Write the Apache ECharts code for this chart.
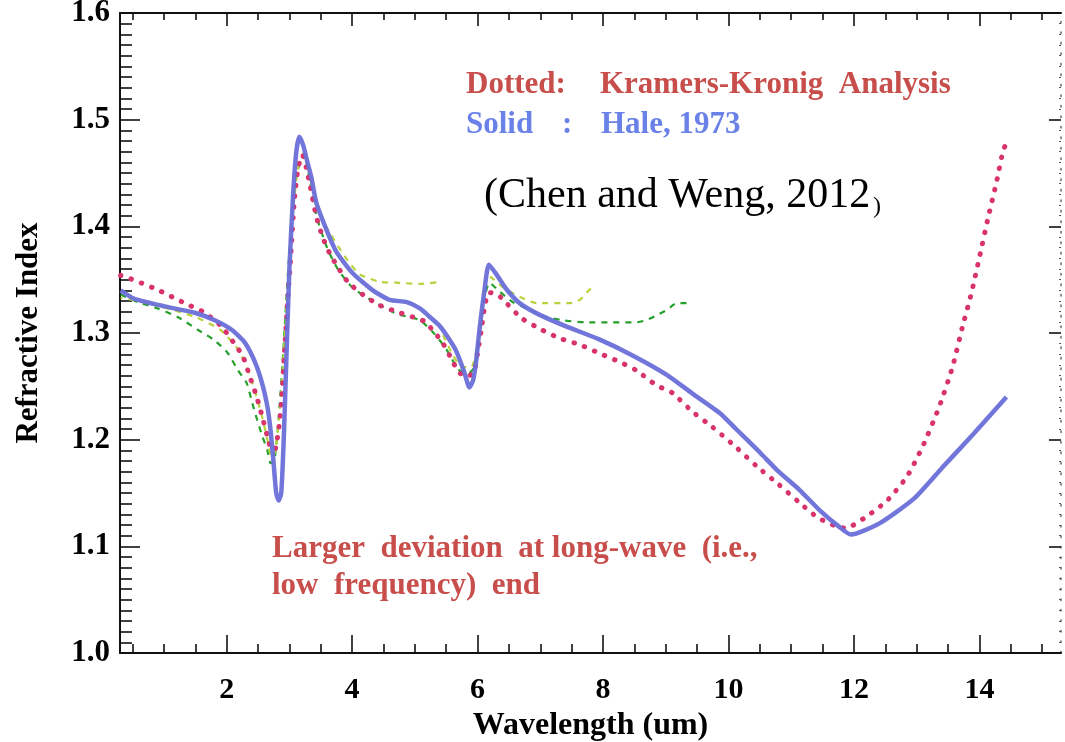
<!DOCTYPE html>
<html>
<head>
<meta charset="utf-8">
<script src="https://cdn.jsdelivr.net/npm/echarts@6/dist/echarts.min.js"></script>
<style>
  html, body { margin: 0; padding: 0; background: #fff; }
  #chart-area { width: 1065px; height: 742px; }
</style>
</head>
<body>
<div id="chart-area"></div>
<script>
// tick values
const majorTicksX = [2, 4, 6, 8, 10, 12, 14];
const minorTicksX = [0.5, 1, 1.5, 2.5, 3, 3.5, 4.5, 5, 5.5, 6.5, 7, 7.5, 8.5, 9, 9.5, 10.5, 11, 11.5, 12.5, 13, 13.5, 14.5, 15];

// Hale, 1973 (solid)
const haleData = [
  [0.31, 1.340], [0.53, 1.332], [1.01, 1.325], [1.49, 1.319], [1.81, 1.312], [2.08, 1.303],
  [2.29, 1.291], [2.45, 1.273], [2.56, 1.254], [2.64, 1.234], [2.69, 1.214], [2.74, 1.184],
  [2.79, 1.150], [2.83, 1.143], [2.87, 1.150], [2.91, 1.200], [2.95, 1.272], [3.00, 1.360],
  [3.06, 1.430], [3.11, 1.470], [3.16, 1.484], [3.22, 1.476], [3.28, 1.462], [3.35, 1.446],
  [3.43, 1.422], [3.59, 1.397], [3.75, 1.376], [4.01, 1.356], [4.33, 1.340], [4.60, 1.331],
  [4.87, 1.329], [5.08, 1.323], [5.24, 1.315], [5.39, 1.307], [5.55, 1.294], [5.66, 1.283],
  [5.79, 1.263], [5.87, 1.249], [5.93, 1.256], [5.98, 1.275], [6.03, 1.303], [6.11, 1.340],
  [6.18, 1.364], [6.30, 1.355], [6.46, 1.341], [6.67, 1.328], [6.99, 1.317], [7.42, 1.306],
  [7.94, 1.294], [8.47, 1.279], [9.01, 1.261], [9.43, 1.243], [9.86, 1.225], [10.12, 1.210],
  [10.5, 1.188], [10.8, 1.170], [11.13, 1.153], [11.45, 1.134], [11.77, 1.118], [11.95, 1.111],
  [12.42, 1.122], [12.96, 1.145], [13.41, 1.174], [13.9, 1.205], [14.43, 1.240]
];

// Kramers-Kronig analysis (dotted)
const kkData = [
  [0.31, 1.354], [0.42, 1.352], [0.88, 1.341], [1.33, 1.328], [1.65, 1.319], [1.92, 1.306],
  [2.10, 1.292], [2.26, 1.278], [2.37, 1.259], [2.48, 1.240], [2.57, 1.221], [2.65, 1.203],
  [2.72, 1.190], [2.78, 1.192], [2.84, 1.215], [2.88, 1.240], [2.92, 1.281], [2.97, 1.328],
  [3.02, 1.370], [3.08, 1.425], [3.14, 1.455], [3.21, 1.467], [3.27, 1.455], [3.32, 1.441],
  [3.43, 1.409], [3.53, 1.390], [3.64, 1.375], [3.77, 1.362], [3.93, 1.348], [4.17, 1.336],
  [4.44, 1.326], [4.71, 1.320], [4.97, 1.315], [5.15, 1.311], [5.28, 1.303], [5.44, 1.291],
  [5.59, 1.275], [5.69, 1.264], [5.82, 1.259], [5.94, 1.263], [6.00, 1.281], [6.06, 1.303],
  [6.11, 1.324], [6.18, 1.338], [6.32, 1.336], [6.46, 1.328], [6.70, 1.314], [6.99, 1.304],
  [7.31, 1.295], [7.63, 1.289], [7.94, 1.281], [8.26, 1.273], [8.53, 1.265], [8.85, 1.251],
  [9.10, 1.244], [9.43, 1.226], [9.74, 1.212], [10.1, 1.194], [10.45, 1.175], [10.8, 1.158],
  [11.13, 1.141], [11.42, 1.127], [11.71, 1.119], [11.87, 1.117], [12.2, 1.128], [12.53, 1.143],
  [12.84, 1.165], [13.09, 1.193], [13.36, 1.231], [13.57, 1.268], [13.73, 1.306], [13.87, 1.337],
  [14.0, 1.371], [14.13, 1.406], [14.27, 1.441], [14.37, 1.469], [14.43, 1.479]
];

// thin dashed model runs
const darkGreenData = [
  [0.31, 1.336], [0.58, 1.329], [0.90, 1.323], [1.22, 1.315], [1.54, 1.303], [1.81, 1.293],
  [2.02, 1.281], [2.18, 1.265], [2.32, 1.253], [2.41, 1.234], [2.49, 1.218], [2.57, 1.203],
  [2.65, 1.190], [2.70, 1.178], [2.76, 1.180], [2.83, 1.220], [2.90, 1.280], [2.96, 1.340],
  [3.03, 1.400], [3.12, 1.450], [3.24, 1.468], [3.33, 1.440], [3.43, 1.410], [3.60, 1.380],
  [3.77, 1.360], [4.00, 1.343], [4.30, 1.331], [4.71, 1.318], [5.08, 1.312], [5.30, 1.300],
  [5.50, 1.285], [5.69, 1.266], [5.85, 1.262], [5.95, 1.268], [6.03, 1.300], [6.10, 1.330],
  [6.19, 1.347], [6.35, 1.339], [6.56, 1.329], [6.83, 1.322], [7.10, 1.315], [7.35, 1.312],
  [7.73, 1.310], [8.15, 1.310], [8.53, 1.310], [8.69, 1.312], [8.87, 1.317], [9.03, 1.322],
  [9.17, 1.328], [9.33, 1.328]
];
const yellowGreenData1 = [
  [0.31, 1.333], [0.60, 1.330], [1.00, 1.324], [1.50, 1.315], [1.90, 1.303], [2.20, 1.283],
  [2.40, 1.255], [2.55, 1.225], [2.65, 1.200], [2.72, 1.183], [2.78, 1.190], [2.85, 1.230],
  [2.92, 1.290], [2.98, 1.350], [3.05, 1.410], [3.14, 1.455], [3.24, 1.470], [3.35, 1.440],
  [3.53, 1.406], [3.77, 1.382], [3.93, 1.368], [4.12, 1.355], [4.44, 1.348], [4.76, 1.347],
  [5.07, 1.346], [5.42, 1.348]
];
const yellowGreenData2 = [
  [5.45, 1.298], [5.60, 1.280], [5.75, 1.268], [5.90, 1.268], [6.00, 1.290], [6.08, 1.325],
  [6.14, 1.354], [6.22, 1.352], [6.40, 1.343], [6.67, 1.334], [6.94, 1.328], [7.47, 1.328],
  [7.63, 1.331], [7.74, 1.338], [7.86, 1.345]
];

const FONT = '"Liberation Serif", "DejaVu Serif", serif';
const RED_TEXT = '#c84e4c';
const BLUE_TEXT = '#6a82e8';

const myChart = echarts.init(document.getElementById('chart-area'));

const tickLine = { color: '#111', width: 1.6 };

const option = {
  animation: false,
  backgroundColor: '#fff',
  grid: { left: 120, right: 4, top: 13, bottom: 89, containLabel: false, outerBoundsMode: 'none' },
  xAxis: [
    {
      type: 'value', min: 0.3, max: 15.3, position: 'bottom',
      axisLine: { show: true, lineStyle: { color: '#111', width: 2 } },
      axisTick: { show: true, inside: true, length: 18, customValues: majorTicksX, lineStyle: tickLine },
      axisLabel: {
        customValues: majorTicksX, margin: 22,
        fontFamily: FONT, fontWeight: 'bold', fontSize: 30, color: '#000'
      },
      splitLine: { show: false },
      name: 'Wavelength (um)', nameLocation: 'middle', nameGap: 52,
      nameTextStyle: { fontFamily: FONT, fontWeight: 'bold', fontSize: 32, color: '#000' }
    },
    {
      type: 'value', min: 0.3, max: 15.3, position: 'bottom',
      axisLine: { show: false },
      axisTick: { show: true, inside: true, length: 9, customValues: minorTicksX, lineStyle: tickLine },
      axisLabel: { show: false },
      splitLine: { show: false }
    },
    {
      type: 'value', min: 0.3, max: 15.3, position: 'top',
      axisLine: { show: true, lineStyle: { color: '#111', width: 2 } },
      axisTick: { show: true, inside: true, length: 13, customValues: majorTicksX, lineStyle: tickLine },
      axisLabel: { show: false },
      splitLine: { show: false }
    },
    {
      type: 'value', min: 0.3, max: 15.3, position: 'top',
      axisLine: { show: false },
      axisTick: { show: true, inside: true, length: 7, customValues: minorTicksX, lineStyle: tickLine },
      axisLabel: { show: false },
      splitLine: { show: false }
    }
  ],
  yAxis: [
    {
      type: 'value', min: 1.0, max: 1.6, interval: 0.1, position: 'left',
      axisLine: { show: true, lineStyle: { color: '#111', width: 2 } },
      axisTick: { show: true, inside: true, length: 20, lineStyle: tickLine },
      minorTick: { show: true, splitNumber: 10, length: 12, lineStyle: tickLine },
      axisLabel: {
        margin: 10, formatter: (v) => v.toFixed(1),
        fontFamily: FONT, fontWeight: 'bold', fontSize: 31, color: '#000'
      },
      splitLine: { show: false },
      name: 'Refractive Index', nameLocation: 'middle', nameGap: 76,
      nameTextStyle: { fontFamily: FONT, fontWeight: 'bold', fontSize: 31, color: '#000' }
    },
    {
      type: 'value', min: 1.0, max: 1.6, interval: 0.1, position: 'right',
      axisLine: { show: true, lineStyle: { color: '#666', width: 1.5, type: [1.5, 9] } },
      axisTick: { show: true, inside: true, length: 12, lineStyle: tickLine },
      minorTick: { show: true, splitNumber: 10, length: 2, lineStyle: { color: '#555', width: 1.2 } },
      axisLabel: { show: false },
      splitLine: { show: false }
    }
  ],
  series: [
    {
      name: 'run 3', type: 'line', data: darkGreenData, symbol: 'none', smooth: 0.2, z: 2,
      lineStyle: { color: '#25a02b', width: 2.2, type: [6, 6] }
    },
    {
      name: 'run 1', type: 'line', data: yellowGreenData1, symbol: 'none', smooth: 0.2, z: 2,
      lineStyle: { color: '#b8d23c', width: 2.2, type: [6, 6], dashOffset: 4 }
    },
    {
      name: 'run 2', type: 'line', data: yellowGreenData2, symbol: 'none', smooth: 0.2, z: 2,
      lineStyle: { color: '#b8d23c', width: 2.2, type: [6, 6] }
    },
    {
      name: 'Kramers-Kronig Analysis', type: 'line', data: kkData, symbol: 'none', smooth: 0.2, z: 3,
      lineStyle: { color: '#d8336c', width: 5, type: [0.5, 10.5], cap: 'round' }
    },
    {
      name: 'Hale, 1973', type: 'line', data: haleData, symbol: 'none', smooth: 0.2, z: 4,
      lineStyle: { color: '#6a6fd8', width: 4.5, opacity: 0.95 }
    }
  ],
  graphic: [
    { type: 'text', left: 466, top: 69, style: { text: 'Dotted:', font: 'bold 31px ' + FONT, fill: RED_TEXT } },
    { type: 'text', left: 600, top: 69, style: { text: 'Kramers-Kronig  Analysis', font: 'bold 31px ' + FONT, fill: RED_TEXT } },
    { type: 'text', left: 466, top: 109, style: { text: 'Solid', font: 'bold 31px ' + FONT, fill: BLUE_TEXT } },
    { type: 'text', left: 562, top: 109, style: { text: ':', font: 'bold 31px ' + FONT, fill: BLUE_TEXT } },
    { type: 'text', left: 601, top: 109, style: { text: 'Hale, 1973', font: 'bold 31px ' + FONT, fill: BLUE_TEXT } },
    { type: 'text', left: 484, top: 175, style: { text: '(Chen and Weng, 2012', font: '42px ' + FONT, fill: '#000' } },
    { type: 'text', left: 873, top: 195, style: { text: ')', font: '24px ' + FONT, fill: '#000' } },
    { type: 'text', left: 272, top: 533, style: { text: 'Larger  deviation  at long-wave  (i.e.,', font: 'bold 31px ' + FONT, fill: RED_TEXT } },
    { type: 'text', left: 272, top: 570, style: { text: 'low  frequency)  end', font: 'bold 31px ' + FONT, fill: RED_TEXT } }
  ]
};

option && myChart.setOption(option);
</script>
</body>
</html>
